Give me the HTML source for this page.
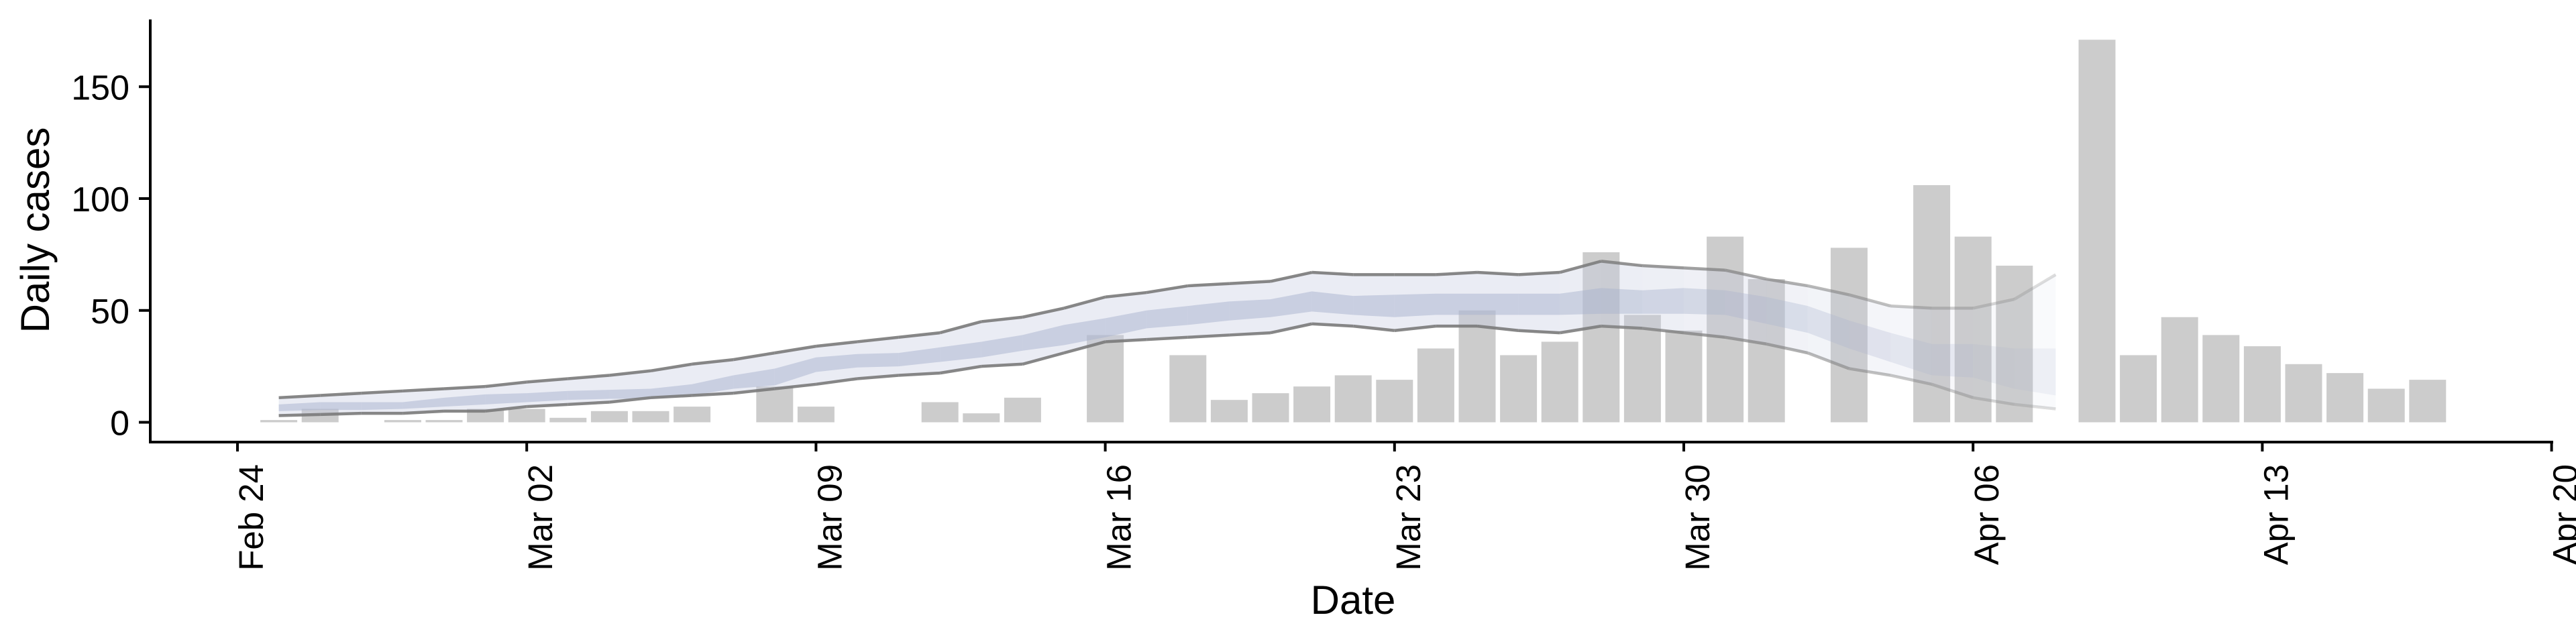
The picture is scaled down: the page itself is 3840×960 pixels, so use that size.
<!DOCTYPE html>
<html><head><meta charset="utf-8"><style>
html,body{margin:0;padding:0;background:#fff;}
svg{display:block;}
text{font-family:"Liberation Sans",Arial,sans-serif;fill:#000;}
</style></head><body>
<svg id="chart" width="3840" height="960" viewBox="0 0 3840 960" xmlns="http://www.w3.org/2000/svg">
<g id="bars"></g>
<g id="ribbons"></g>
<g id="axes"></g>
</svg>
<script>
// ---- data ----
const startDate = "Feb 24";
const barDays = [1,2,4,5,6,7,8,9,10,11,13,14,17,18,19,21,23,24,25,26,27,28,29,30,31,32,33,34,35,36,37,39,41,42,43,45,46,47,48,49,50,51,52,53];
const barValues = [1,6,1,1,6,6,2,5,5,7,16,7,9,4,11,39,30,10,13,16,21,19,33,50,30,36,76,48,41,83,64,78,106,83,70,171,30,47,39,34,26,22,15,19];
const ribbonStartDay = 1;
const outerUpper = [11,12,13,14,15,16,18,19.5,21,23,26,28,31,34,36,38,40,45,47,51,56,58,61,62,63,67,66,66,66,67,66,67,72,70,69,68,64,61,57,52,51,51,55,66];
const outerLower = [3,3.5,4,4,5,5,7,8,9,11,12,13,15,17,19.5,21,22,25,26,31,36,37,38,39,40,44,43,41,43,43,41,40,43,42,40,38,35,31,24,21,17,11,8,6];
const innerUpper = [8,9,9,9,11,12.5,13,14,14.5,15,17,21,24,29,30.5,31,33.5,36,39,43.5,46.5,50,52,54,55,58.5,56.5,57,57.5,57.5,57.5,57.5,60,59,60,59,56,52,45.5,40,35,35,33,33];
const innerLower = [5,5.5,5.5,6,7,8,9,10,10.5,10.5,12,15,16.5,22.5,24.5,25,27,29,32,34.5,38,42,43.5,45.5,47,49.5,48,47,48,48,48,48,48.5,48.5,48.5,48,44,40,33,27,21,20,15,12];
const yTicks = [0,50,100,150];
const xTickDays = [0,7,14,21,28,35,42,49,56];
const xTickLabels = ["Feb 24","Mar 02","Mar 09","Mar 16","Mar 23","Mar 30","Apr 06","Apr 13","Apr 20"];

// ---- scales ----
const X0 = 354, PXDAY = 61.6;
const Y0 = 629.5, PXUNIT = 3.335;
const xs = d => X0 + d * PXDAY;
const ys = v => Y0 - v * PXUNIT;
const NS = "http://www.w3.org/2000/svg";
function mk(tag, attrs, parent){const e=document.createElementNS(NS,tag);for(const k in attrs)e.setAttribute(k,attrs[k]);parent.appendChild(e);return e;}

// bars
const gb = document.getElementById('bars');
barDays.forEach((d,i)=>{
  if(barValues[i]<=0) return;
  const r = mk('rect',{x:xs(d)-27.5,y:ys(barValues[i]),width:55,height:barValues[i]*PXUNIT,fill:'#cccccc'},gb);
  
  
});

// ribbons (per-day segments, fading at the end)
const gr = document.getElementById('ribbons');
function alphaFor(d){ return d<32?1:Math.max(0.25,1-(d-32)/12*0.75); }
for(let i=0;i<outerUpper.length-1;i++){
  const d0=ribbonStartDay+i, d1=d0+1, a=alphaFor(d0+0.5);
  const o = mk('polygon',{points:`${xs(d0)},${ys(outerUpper[i])} ${xs(d1)},${ys(outerUpper[i+1])} ${xs(d1)},${ys(outerLower[i+1])} ${xs(d0)},${ys(outerLower[i])}`,fill:'rgb(200,205,225)','fill-opacity':0.38*a},gr);
  
  
  const n = mk('polygon',{points:`${xs(d0)},${ys(innerUpper[i])} ${xs(d1)},${ys(innerUpper[i+1])} ${xs(d1)},${ys(innerLower[i+1])} ${xs(d0)},${ys(innerLower[i])}`,fill:'rgb(168,178,205)','fill-opacity':0.5*a},gr);
  
  
  [[outerUpper,'upper-bound-line'],[outerLower,'lower-bound-line']].forEach(([arr,nm])=>{
    const l = mk('line',{x1:xs(d0),y1:ys(arr[i]),x2:xs(d1),y2:ys(arr[i+1]),stroke:'#7a7a7a','stroke-width':4.5,'stroke-opacity':0.9*a,'stroke-linecap':'butt'},gr);
    
    
  });
}

// axes
const ga = document.getElementById('axes');
const ya = mk('line',{x1:224,y1:29,x2:224,y2:660.5,stroke:'#000','stroke-width':4},ga);


const xa = mk('line',{x1:222,y1:659,x2:3806,y2:659,stroke:'#000','stroke-width':4},ga);


yTicks.forEach(v=>{
  const t = mk('line',{x1:207,y1:ys(v),x2:224,y2:ys(v),stroke:'#000','stroke-width':4},ga);
  
  
  const l = mk('text',{x:193,y:ys(v)+19,'text-anchor':'end','font-size':52},ga);
  l.textContent = v;
  
  
});
xTickDays.forEach((d,i)=>{
  const t = mk('line',{x1:xs(d),y1:659,x2:xs(d),y2:673,stroke:'#000','stroke-width':4},ga);
  
  
  const l = mk('text',{x:0,y:0,'text-anchor':'end','font-size':51,transform:`translate(${xs(d)+38},692) rotate(-90)`},ga);
  l.textContent = xTickLabels[i];
  
  
});
const xt = mk('text',{x:2017,y:915,'text-anchor':'middle','font-size':60},ga);
xt.textContent='Date';


const yt = mk('text',{x:0,y:0,'text-anchor':'middle','font-size':60,transform:'translate(73,343) rotate(-90)'},ga);
yt.textContent='Daily cases';


</script>
</body></html>
